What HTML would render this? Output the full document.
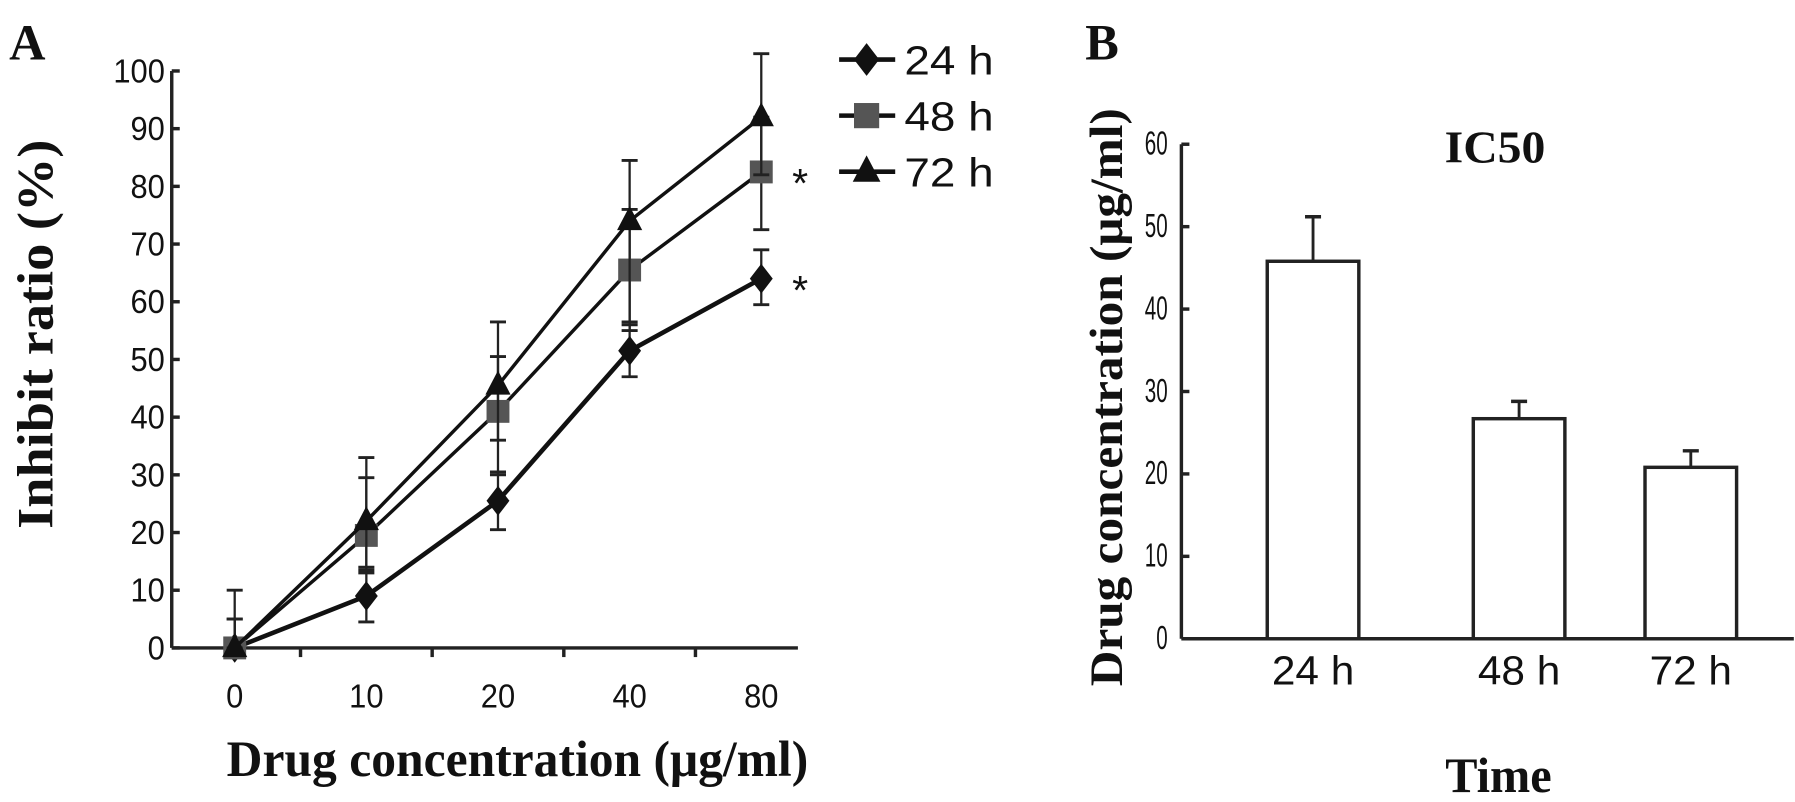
<!DOCTYPE html>
<html><head><meta charset="utf-8"><style>
html,body{margin:0;padding:0;background:#fff;}
svg{display:block;}
.tk{font-family:"Liberation Sans Narrow","Liberation Sans",sans-serif;font-size:29px;fill:#111;}
.ser{font-family:"Liberation Serif",serif;font-weight:bold;fill:#111;}
.leg{font-family:"Liberation Sans",sans-serif;font-size:36px;fill:#111;}
</style></head><body>
<svg id="c" width="1795" height="802" viewBox="0 0 1568 700.6" xmlns="http://www.w3.org/2000/svg">
<text class="ser" x="8" y="52" font-size="44">A</text>
<text class="ser" x="948" y="52" font-size="44">B</text>
<text class="ser" font-size="44" textLength="340" lengthAdjust="spacingAndGlyphs" transform="translate(46,292) rotate(-90)" text-anchor="middle">Inhibit ratio (%)</text>
<text class="ser" font-size="44" textLength="508" lengthAdjust="spacingAndGlyphs" x="452" y="678" text-anchor="middle">Drug concentration (μg/ml)</text>
<text class="ser" font-size="41" textLength="505" lengthAdjust="spacingAndGlyphs" transform="translate(980,347) rotate(-90)" text-anchor="middle">Drug concentration (μg/ml)</text>
<text class="ser" font-size="40" textLength="88" lengthAdjust="spacingAndGlyphs" x="1306" y="142" text-anchor="middle">IC50</text>
<text class="ser" font-size="43" textLength="93" lengthAdjust="spacingAndGlyphs" x="1309" y="692" text-anchor="middle">Time</text>
<g id="ga"></g><g id="gb"></g>
</svg>
<script>
const catsA=["0","10","20","40","80"];
const s24=[0,9,25.5,51.5,64];
const e24lo=[0,4.5,20.5,47,59.5];
const e24hi=[5,13.5,30.5,56,69];
const s48=[0,19.5,41,65.5,82.5];
const e48lo=[0,13,36,55,72.5];
const e48hi=[5,29.5,50.5,76,92];
const s72=[0,22,45.5,74,92];
const e72lo=[0,14,30,56.5,82];
const e72hi=[10,33,56.5,84.5,103];
const ticksA=[0,10,20,30,40,50,60,70,80,90,100];
const catsB=["24 h","48 h","72 h"];
const valsB=[45.8,26.7,20.8];
const errB=[51.2,28.8,22.8];
const ticksB=[0,10,20,30,40,50,60];
const NS="http://www.w3.org/2000/svg";
function mk(p,t,a){const e=document.createElementNS(NS,t);for(const k in a)e.setAttribute(k,a[k]);p.appendChild(e);return e;}
const ga=document.getElementById('ga'),gb=document.getElementById('gb');
// Panel A
const ax0=150,ax1=697,ay0=566,ay100=62;
const yA=v=>ay0-(ay0-ay100)*v/100;
const xA=i=>205+i*115;
let e=mk(ga,'line',{x1:ax0,y1:yA(100),x2:ax0,y2:ay0,stroke:'#222','stroke-width':3});

e=mk(ga,'line',{x1:ax0,y1:ay0,x2:ax1,y2:ay0,stroke:'#222','stroke-width':3});

ticksA.forEach(t=>{mk(ga,'line',{x1:ax0,y1:yA(t),x2:ax0+7,y2:yA(t),stroke:'#222','stroke-width':3});
 const tx=mk(ga,'text',{x:ax0-6,y:yA(t)+10,'text-anchor':'end',class:'tk',textLength:String(t).length*15,lengthAdjust:'spacingAndGlyphs'});tx.textContent=t;
 });
for(let i=0;i<catsA.length;i++){
 if(i>0)mk(ga,'line',{x1:xA(i)-57.5,y1:ay0,x2:xA(i)-57.5,y2:ay0+8,stroke:'#222','stroke-width':3});
 const tx=mk(ga,'text',{x:xA(i),y:618,'text-anchor':'middle',class:'tk',textLength:catsA[i].length*15,lengthAdjust:'spacingAndGlyphs'});tx.textContent=catsA[i];
 }
function marker(g,type,x,y,s,col){
 if(type==='d')return mk(g,'polygon',{points:`${x},${y-s*1.3} ${x+s},${y} ${x},${y+s*1.3} ${x-s},${y}`,fill:col});
 if(type==='s')return mk(g,'rect',{x:x-s,y:y-s,width:2*s,height:2*s,fill:col});
 return mk(g,'polygon',{points:`${x},${y-s*1.3} ${x+s*1.1},${y+s*0.8} ${x-s*1.1},${y+s*0.8}`,fill:col});}
const series=[{n:'24h',v:s24,lo:e24lo,hi:e24hi,m:'d',c:'#111',w:4},{n:'48h',v:s48,lo:e48lo,hi:e48hi,m:'s',c:'#555',w:3},{n:'72h',v:s72,lo:e72lo,hi:e72hi,m:'t',c:'#111',w:3}];
series.forEach((s,k)=>{
 const g=mk(ga,'g',{});
 s.v.forEach((v,i)=>{const x=xA(i);
  mk(g,'line',{x1:x,y1:yA(s.lo[i]),x2:x,y2:yA(s.hi[i]),stroke:'#222','stroke-width':2});
  mk(g,'line',{x1:x-7,y1:yA(s.hi[i]),x2:x+7,y2:yA(s.hi[i]),stroke:'#222','stroke-width':2.5});
  mk(g,'line',{x1:x-7,y1:yA(s.lo[i]),x2:x+7,y2:yA(s.lo[i]),stroke:'#222','stroke-width':2.5});});
 const pl=mk(g,'polyline',{points:s.v.map((v,i)=>xA(i)+','+yA(v)).join(' '),fill:'none',stroke:'#111','stroke-width':s.w});
 
 s.v.forEach((v,i)=>{const m=marker(g,s.m,xA(i),yA(v),10,s.c);});
 const ly=52+k*49;
 const lg=mk(ga,'g',{});
 mk(lg,'line',{x1:733,y1:ly,x2:782,y2:ly,stroke:'#111','stroke-width':4});
 marker(lg,s.m,757,ly,11,s.c);
 const t=mk(lg,'text',{x:790,y:ly+13,class:'leg',textLength:78,lengthAdjust:'spacingAndGlyphs'});t.textContent=['24 h','48 h','72 h'][k];});
[[s48[4]],[s24[4]]].forEach((v,i)=>{const t=mk(ga,'text',{x:692,y:yA(v[0])+22,class:'leg','font-size':'30'});t.textContent='*';
 });
// Panel B
const bx0=1032,bx1=1567,by0=558,by60=126;
const yB=v=>by0-(by0-by60)*v/60;
const xB=[1147,1327,1477];
e=mk(gb,'line',{x1:bx0,y1:yB(60),x2:bx0,y2:by0,stroke:'#222','stroke-width':3});

e=mk(gb,'line',{x1:bx0,y1:by0,x2:bx1,y2:by0,stroke:'#222','stroke-width':3});

ticksB.forEach(t=>{mk(gb,'line',{x1:bx0,y1:yB(t),x2:bx0+7,y2:yB(t),stroke:'#222','stroke-width':3});
 const tx=mk(gb,'text',{x:bx0-12,y:yB(t)+9,'text-anchor':'end',class:'tk','font-size':'25',textLength:String(t).length*10,lengthAdjust:'spacingAndGlyphs'});tx.textContent=t;
 });
valsB.forEach((v,i)=>{const x=xB[i];
 mk(gb,'line',{x1:x,y1:yB(v),x2:x,y2:yB(errB[i]),stroke:'#222','stroke-width':2.5});
 mk(gb,'line',{x1:x-7,y1:yB(errB[i]),x2:x+7,y2:yB(errB[i]),stroke:'#222','stroke-width':3});
 const r=mk(gb,'rect',{x:x-40,y:yB(v),width:80,height:by0-yB(v),fill:'#fff',stroke:'#222','stroke-width':3});
 
 const tx=mk(gb,'text',{x:x,y:598,'text-anchor':'middle',class:'leg',textLength:72,lengthAdjust:'spacingAndGlyphs'});tx.textContent=catsB[i];
 });
</script>
</body></html>
